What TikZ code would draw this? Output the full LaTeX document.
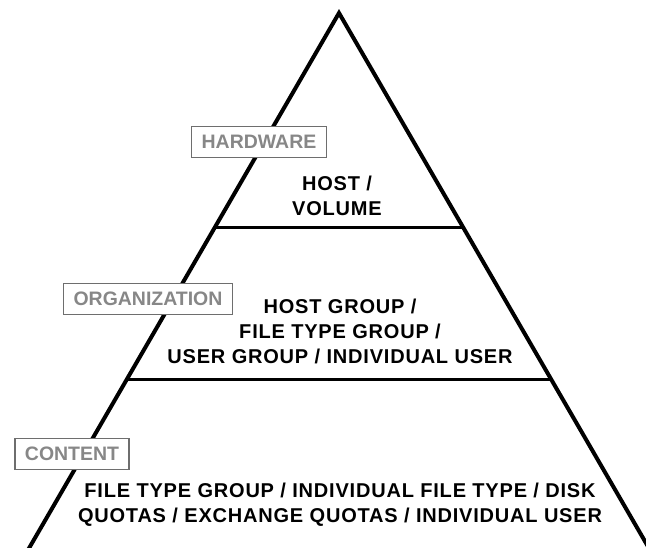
\documentclass[tikz,border=0pt]{standalone}
\usepackage{fontspec}
\setmainfont{Liberation Sans}
\newfontfamily\tierfont[LetterSpace=4]{Liberation Sans}
\usetikzlibrary{calc}
\definecolor{taggray}{RGB}{135,135,135}
\definecolor{tagline}{RGB}{110,110,110}
\tikzset{
  tier/.style={align=center, font=\tierfont\fontsize{15}{18.75}\selectfont\bfseries},
  tierlabel/.style={draw=tagline, line width=1.1pt, fill=white, text=taggray,
    font=\fontsize{14.6}{16}\selectfont\bfseries, inner xsep=7.5pt, inner ysep=0pt,
    minimum height=23pt},
  side/.style={line width=3pt, line join=miter},
  divider/.style={line width=2.4pt}
}
\begin{document}
\begin{tikzpicture}[x=0.75pt,y=-0.75pt]
  \useasboundingbox (0,0) rectangle (646,548);
  \clip (0,0) rectangle (646,548);
  % pyramid outline
  \coordinate (apex) at (339,13);
  \coordinate (bl) at (28,550);
  \coordinate (br) at (650,550);
  \draw[side] (bl) -- (apex) -- (br);
  % tier dividers
  \draw[divider] ($(apex)!0.400!(bl)$) -- ($(apex)!0.400!(br)$);
  \draw[divider] ($(apex)!0.683!(bl)$) -- ($(apex)!0.683!(br)$);
  % tier texts
  \node[tier] (hw) at (337,196) {HOST /\\VOLUME};
  \node[tier] (org) at (340,331) {HOST GROUP /\\FILE TYPE GROUP /\\USER GROUP / INDIVIDUAL USER};
  \node[tier] (cnt) at (340,505) {FILE TYPE GROUP / INDIVIDUAL FILE TYPE / DISK\\QUOTAS / EXCHANGE QUOTAS / INDIVIDUAL USER};
  % tier labels
  \node[tierlabel] (hwlabel) at (259,142) {HARDWARE};
  \node[tierlabel] (orglabel) at (148,299) {ORGANIZATION};
  \node[tierlabel] (cntlabel) at (72,454) {CONTENT};
\end{tikzpicture}
\end{document}
